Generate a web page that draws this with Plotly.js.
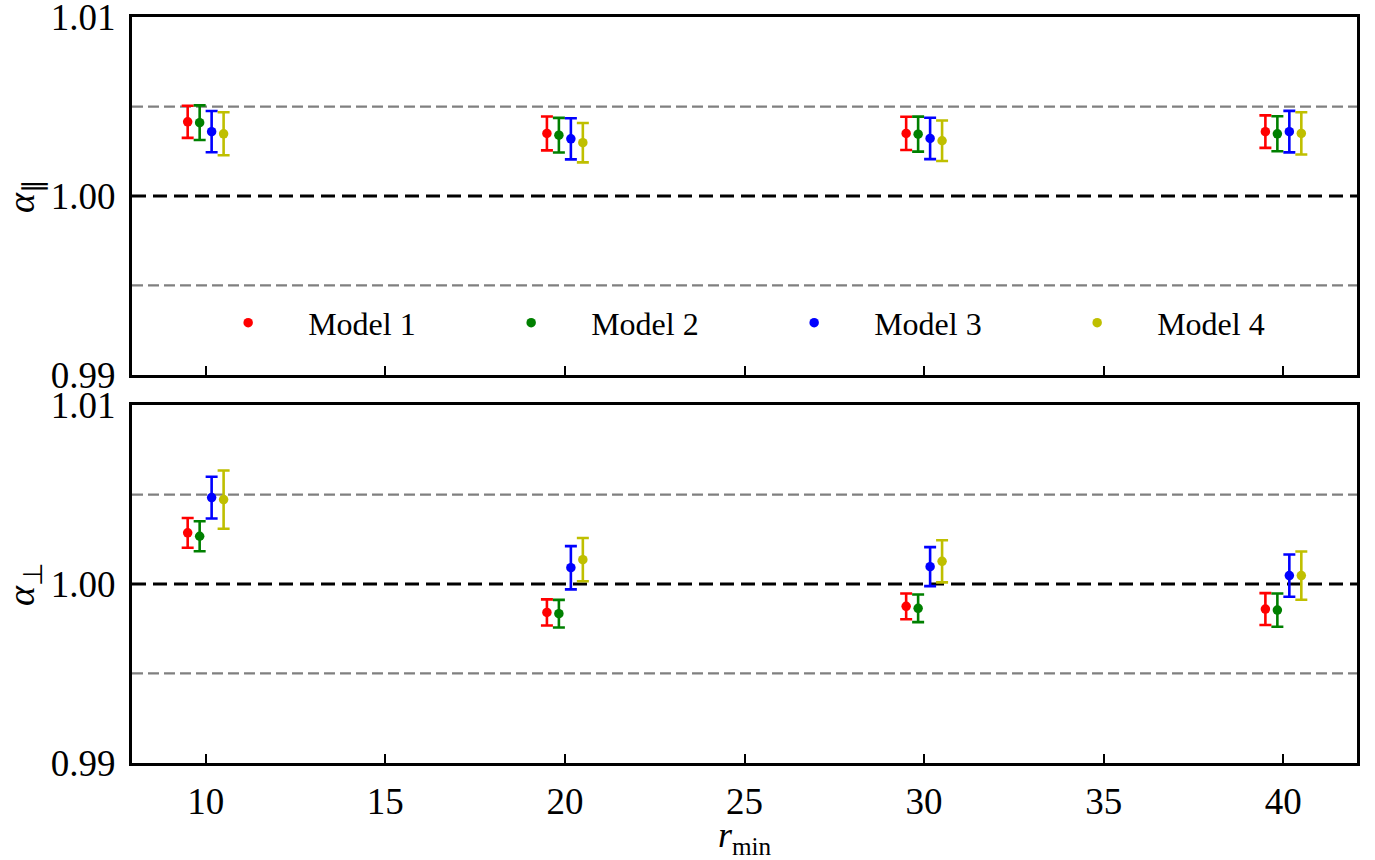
<!DOCTYPE html>
<html>
<head>
<meta charset="utf-8">
<script src="https://cdn.plot.ly/plotly-3.0.1.min.js"></script>
<style>html,body{margin:0;padding:0;background:#fff;}#chart{width:1375px;height:860px;}</style>
</head>
<body>
<div id="chart"></div>
<script>
// ---- data ----
const rmin = [10, 20, 30, 40];
const modelNames = ["Model 1", "Model 2", "Model 3", "Model 4"];
const modelColors = ["#ff0000", "#008000", "#0000ff", "#bfbf00"];

const alphaPar_m1 = [1.00415, 1.00350, 1.00350, 1.00360];
const alphaPar_m2 = [1.00410, 1.00340, 1.00346, 1.00348];
const alphaPar_m3 = [1.00360, 1.00320, 1.00322, 1.00360];
const alphaPar_m4 = [1.00348, 1.00298, 1.00309, 1.00350];
const errPar_m1 = [0.00090, 0.00095, 0.00093, 0.00091];
const errPar_m2 = [0.00097, 0.00097, 0.00098, 0.00098];
const errPar_m3 = [0.00115, 0.00115, 0.00116, 0.00116];
const errPar_m4 = [0.00120, 0.00110, 0.00113, 0.00118];

const alphaPerp_m1 = [1.00286, 0.99841, 0.99875, 0.99860];
const alphaPerp_m2 = [1.00267, 0.99834, 0.99864, 0.99854];
const alphaPerp_m3 = [1.00483, 1.00091, 1.00097, 1.00047];
const alphaPerp_m4 = [1.00472, 1.00136, 1.00127, 1.00047];
const errPerp_m1 = [0.00083, 0.00073, 0.00072, 0.00089];
const errPerp_m2 = [0.00084, 0.00077, 0.00077, 0.00093];
const errPerp_m3 = [0.00117, 0.00121, 0.00109, 0.00118];
const errPerp_m4 = [0.00163, 0.00121, 0.00118, 0.00135];

const refLines = [1.0, 1.005, 0.995];
const yTicks = [0.99, 1.00, 1.01];
const yTickText = ["0.99", "1.00", "1.01"];
const xTicks = [10, 15, 20, 25, 30, 35, 40];

// ---- build ----
const parVals = [alphaPar_m1, alphaPar_m2, alphaPar_m3, alphaPar_m4];
const parErrs = [errPar_m1, errPar_m2, errPar_m3, errPar_m4];
const perpVals = [alphaPerp_m1, alphaPerp_m2, alphaPerp_m3, alphaPerp_m4];
const perpErrs = [errPerp_m1, errPerp_m2, errPerp_m3, errPerp_m4];
const dodge = [-0.5, -1/6, 1/6, 0.5];

const traces = [];
function addPanel(vals, errs, xa, ya, showLegend) {
  for (let i = 0; i < 4; i++) {
    traces.push({
      type: 'scatter', mode: 'markers',
      x: rmin.map(v => v + dodge[i]), y: vals[i],
      xaxis: xa, yaxis: ya,
      name: '\u00a0\u00a0\u00a0\u00a0\u00a0' + modelNames[i],
      showlegend: showLegend,
      marker: {color: modelColors[i], size: 9.5},
      error_y: {type: 'data', array: errs[i], visible: true, color: modelColors[i], thickness: 2.6, width: 6}
    });
  }
}
addPanel(parVals, parErrs, 'x', 'y', true);
addPanel(perpVals, perpErrs, 'x2', 'y2', false);

const shapes = [];
['y', 'y2'].forEach(ya => {
  refLines.forEach(v => {
    const main = v === 1.0;
    shapes.push({
      type: 'line', xref: (ya === 'y' ? 'x' : 'x2') + ' domain', yref: ya,
      x0: 0, x1: 1, y0: v, y1: v, layer: 'below',
      line: {color: main ? '#000000' : '#808080', width: main ? 3 : 2.4, dash: main ? '14px,7px' : '11px,5px'}
    });
  });
});

const tickFont = {family: 'Liberation Serif, serif', size: 37, color: '#000'};
const axCommon = {
  showline: true, linewidth: 3, linecolor: '#000', mirror: true,
  ticks: 'inside', ticklen: 9, tickwidth: 2, tickcolor: '#000',
  showgrid: false, zeroline: false, tickfont: tickFont, ticklabeloverflow: 'allow'
};
const yRange = [0.98999, 1.01001];

const layout = {
  width: 1375, height: 860,
  paper_bgcolor: '#fff', plot_bgcolor: '#fff',
  margin: {l: 132, r: 18, t: 17, b: 97},
  font: {family: 'Liberation Serif, serif', color: '#000'},
  showlegend: true,
  legend: {
    orientation: 'h', x: 0.0785, y: 0.59, xanchor: 'left', yanchor: 'middle',
    entrywidth: 238, entrywidthmode: 'pixels',
    font: {family: 'Liberation Serif, serif', size: 32, color: '#000'},
    bgcolor: 'rgba(0,0,0,0)', borderwidth: 0
  },
  xaxis: Object.assign({}, axCommon, {
    domain: [0, 1], anchor: 'y', range: [7.95, 42.05],
    tickvals: xTicks, showticklabels: false
  }),
  yaxis: Object.assign({}, axCommon, {
    domain: [0.5201, 1], anchor: 'x', range: yRange,
    tickvals: yTicks, ticktext: yTickText, ticklabelstandoff: 6,
    title: {text: '<i>α</i><sub>∥</sub>', font: {family: 'Liberation Serif, serif', size: 38}, standoff: 10}
  }),
  xaxis2: Object.assign({}, axCommon, {
    domain: [0, 1], anchor: 'y2', range: [7.95, 42.05],
    tickvals: xTicks, ticklabelstandoff: 4,
    title: {text: '<i>r</i><sub>min</sub>', font: {family: 'Liberation Serif, serif', size: 36}, standoff: 4}
  }),
  yaxis2: Object.assign({}, axCommon, {
    domain: [0, 0.4799], anchor: 'x2', range: yRange,
    tickvals: yTicks, ticktext: yTickText, ticklabelstandoff: 6,
    title: {text: '<i>α</i><sub>⊥</sub>', font: {family: 'Liberation Serif, serif', size: 38}, standoff: 10}
  }),
  shapes: shapes
};

Plotly.newPlot('chart', traces, layout, {displayModeBar: false, staticPlot: true});
</script>
</body>
</html>
